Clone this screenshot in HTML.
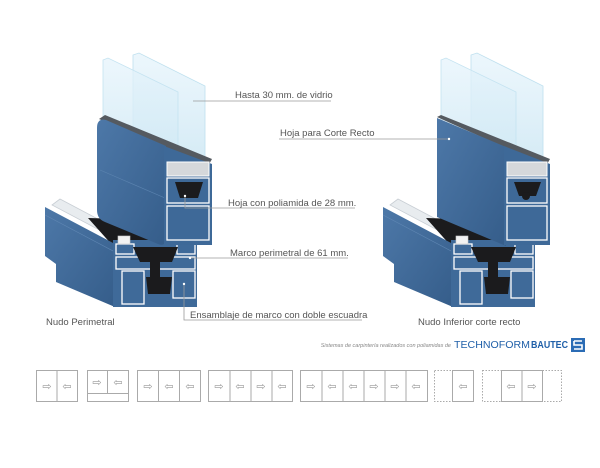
<!DOCTYPE html>
<html><head><meta charset="utf-8"><style>
html,body{margin:0;padding:0;background:#fff;}
svg{display:block;font-family:"Liberation Sans",sans-serif;}
</style></head><body>
<svg width="600" height="468" viewBox="0 0 600 468" xmlns="http://www.w3.org/2000/svg">
<defs>
<linearGradient id="bl" x1="0" y1="0" x2="1" y2="1"><stop offset="0" stop-color="#4d78a8"/><stop offset="1" stop-color="#355d8a"/></linearGradient>
<linearGradient id="gl" x1="0" y1="0" x2="0" y2="1"><stop offset="0" stop-color="#e4f3fb" stop-opacity="0.7"/><stop offset="1" stop-color="#cfe8f4" stop-opacity="0.9"/></linearGradient>
<g id="frame">
  <polygon points="52,205 60,199 130,236 124,243" fill="#e8ecef" stroke="#c8ced4" stroke-width="0.8"/>
  <polygon points="88,218 160,220 190,242 113,246" fill="#1b1b1d"/>
  <polygon points="45,207 115,244 115,307 56,282 56,264 45,256" fill="url(#bl)"/>
  <line x1="45" y1="215" x2="115" y2="252" stroke="#5f87b3" stroke-width="0.7"/>
  <rect x="113" y="240" width="84" height="67" fill="#3f6a99"/>
  <rect x="116" y="244" width="18" height="10" fill="none" stroke="#fff" stroke-width="1.3"/>
  <rect x="177" y="244" width="18" height="10" fill="none" stroke="#fff" stroke-width="1.3"/>
  <rect x="116" y="257" width="79" height="12" fill="none" stroke="#fff" stroke-width="1.3"/>
  <rect x="122" y="271" width="22" height="33" fill="none" stroke="#fff" stroke-width="1.3"/>
  <rect x="173" y="271" width="22" height="27" fill="none" stroke="#fff" stroke-width="1.3"/>
  <polygon points="133,247 178,247 172,262 140,262" fill="#1b1b1d"/>
  <rect x="150" y="258" width="10" height="28" fill="#1b1b1d"/>
  <polygon points="146,277 172,277 170,294 148,294" fill="#1b1b1d"/>
  <rect x="118" y="236" width="12" height="8" fill="#f2f2f2" stroke="#ccc" stroke-width="0.6"/>
  <rect x="180" y="236" width="12" height="8" fill="#f2f2f2" stroke="#ccc" stroke-width="0.6"/>
</g>
<g id="glass">
  <polygon points="133,55 139,53 205,86 205,165 133,135" fill="url(#gl)" stroke="#bfe0ef" stroke-width="0.8"/>
  <polygon points="103,60 108,58 178,92 178,168 103,135" fill="url(#gl)" stroke="#c4e3f1" stroke-width="0.8"/>
</g>
</defs>

<!-- LEFT -->
<use href="#glass"/>
<use href="#frame"/>
<polygon points="165,224 172,218 210,234 206,244" fill="#e3e7ea" stroke="#c8ced4" stroke-width="0.7"/>
<polygon points="99,119 105,115 212,159 208,166" fill="#555a60"/>
<polygon points="160,148 207,166 207,176 160,162" fill="#cfd3d6"/>
<path d="M97,128 Q97,118 106,120 L166,146 L166,238 Q166,247 158,244 L105,222 Q97,219 97,210 Z" fill="url(#bl)"/>
<line x1="100" y1="170" x2="165" y2="198" stroke="#5c84b0" stroke-width="0.6"/>
<polygon points="164,146 212,164 212,245 164,245" fill="#3e6998"/>
<rect x="167" y="162" width="42" height="14" fill="#d5d8db" stroke="#fff" stroke-width="1"/>
<rect x="167" y="178" width="42" height="25" fill="none" stroke="#fff" stroke-width="1.3"/>
<polygon points="175,182 203,182 198,198 180,198" fill="#1b1b1d"/>
<rect x="167" y="206" width="42" height="34" fill="none" stroke="#fff" stroke-width="1.3"/>

<!-- RIGHT -->
<g transform="translate(338,0)">
<use href="#glass"/>
<use href="#frame"/>
<polygon points="165,224 172,218 210,234 206,244" fill="#e3e7ea" stroke="#c8ced4" stroke-width="0.7"/>
<polygon points="99,117 103,115 212,159 208,166" fill="#555a60"/>
<polygon points="160,148 207,166 207,176 160,162" fill="#cfd3d6"/>
<polygon points="99,118 168,147 168,246 99,217" fill="url(#bl)"/>
<polygon points="166,146 212,164 212,245 166,245" fill="#3e6998"/>
<rect x="169" y="162" width="40" height="14" fill="#d5d8db" stroke="#fff" stroke-width="1"/>
<rect x="169" y="178" width="40" height="25" fill="none" stroke="#fff" stroke-width="1.3"/>
<polygon points="176,182 203,182 198,196 181,196" fill="#1b1b1d"/>
<circle cx="188" cy="196" r="4" fill="#1b1b1d"/>
<rect x="169" y="206" width="40" height="34" fill="none" stroke="#fff" stroke-width="1.3"/>
</g>

<g stroke="#9a9a9a" stroke-width="0.8" fill="none">
<line x1="193" y1="101" x2="331" y2="101"/>
<line x1="279" y1="139" x2="450" y2="139"/>
<polyline points="185,196 185,208 355,208"/>
<line x1="190" y1="258" x2="348" y2="258"/>
<polyline points="184,284 184,320 362,320"/>
</g>
<g fill="#fff"><circle cx="185" cy="196" r="1.2"/><circle cx="190" cy="258" r="1.2"/><circle cx="184" cy="284" r="1.2"/><circle cx="449" cy="139" r="1.2"/></g>
<g fill="#555" font-size="9.5">
<text x="235" y="98">Hasta 30 mm. de vidrio</text>
<text x="280" y="136">Hoja para Corte Recto</text>
<text x="228" y="206">Hoja con poliamida de 28 mm.</text>
<text x="230" y="256">Marco perimetral de 61 mm.</text>
<text x="190" y="318">Ensamblaje de marco con doble escuadra</text>
<text x="46" y="325">Nudo Perimetral</text>
<text x="418" y="325">Nudo Inferior corte recto</text>
</g>
<text x="451" y="347" font-size="5.5" font-style="italic" fill="#888" text-anchor="end">Sistemas de carpintería realizados con poliamidas de</text>
<text x="454" y="348" font-size="10" fill="#1f5fa8" textLength="76" lengthAdjust="spacingAndGlyphs">TECHNOFORM</text>
<text x="531" y="348" font-size="10" font-weight="bold" fill="#1f5fa8" textLength="37" lengthAdjust="spacingAndGlyphs">BAUTEC</text>
<rect x="571" y="338" width="14" height="14" fill="#2b6cb5"/>
<path d="M574,341 H582 M574,341 V345 H582 V349 H574" stroke="#fff" stroke-width="1.6" fill="none"/>

<g fill="none" stroke="#aaa" stroke-width="1">
<rect x="36.5" y="370.5" width="41" height="31"/><line x1="57" y1="370" x2="57" y2="402"/>
<rect x="87.5" y="370.5" width="41" height="31"/><line x1="107.5" y1="370" x2="107.5" y2="393"/><line x1="87" y1="393.5" x2="129" y2="393.5"/>
<rect x="137.5" y="370.5" width="63" height="31"/><line x1="158.5" y1="370" x2="158.5" y2="402"/><line x1="179.5" y1="370" x2="179.5" y2="402"/>
<rect x="208.5" y="370.5" width="84" height="31"/><line x1="230" y1="370" x2="230" y2="402"/><line x1="251" y1="370" x2="251" y2="402"/><line x1="272" y1="370" x2="272" y2="402"/>
<rect x="300.5" y="370.5" width="127" height="31"/><line x1="322" y1="370" x2="322" y2="402"/><line x1="343" y1="370" x2="343" y2="402"/><line x1="364" y1="370" x2="364" y2="402"/><line x1="385" y1="370" x2="385" y2="402"/><line x1="406" y1="370" x2="406" y2="402"/>
<rect x="434.5" y="370.5" width="39" height="31" stroke-dasharray="1.5,1.5"/><rect x="452.5" y="370.5" width="21" height="31"/>
<rect x="482.5" y="370.5" width="79" height="31" stroke-dasharray="1.5,1.5"/><rect x="501.5" y="370.5" width="41" height="31"/><line x1="522" y1="370" x2="522" y2="402"/>
</g>
<g font-size="11" fill="#999" text-anchor="middle">
<text x="47" y="390">⇨</text><text x="67" y="390">⇦</text>
<text x="97" y="386">⇨</text><text x="118" y="386">⇦</text>
<text x="148" y="390">⇨</text><text x="169" y="390">⇦</text><text x="190" y="390">⇦</text>
<text x="219" y="390">⇨</text><text x="240" y="390">⇦</text><text x="261" y="390">⇨</text><text x="282" y="390">⇦</text>
<text x="311" y="390">⇨</text><text x="332" y="390">⇦</text><text x="353" y="390">⇦</text><text x="374" y="390">⇨</text><text x="395" y="390">⇨</text><text x="416" y="390">⇦</text>
<text x="463" y="390">⇦</text>
<text x="511" y="390">⇦</text><text x="532" y="390">⇨</text>
</g>
</svg>
</body></html>
